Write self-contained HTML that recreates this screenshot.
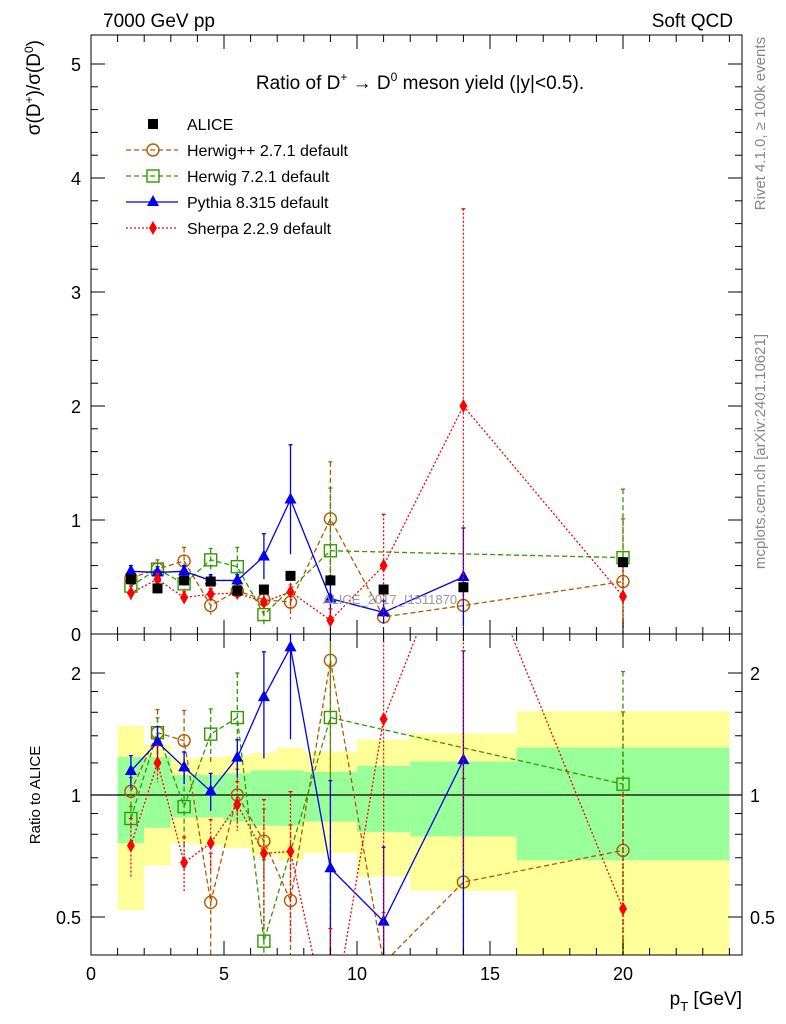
<!DOCTYPE html>
<html><head><meta charset="utf-8"><style>
html,body{margin:0;padding:0;background:#fff;width:786px;height:1024px;overflow:hidden;}
svg{display:block;font-family:"Liberation Sans",sans-serif;}
</style></head><body>
<svg id="c" width="786" height="1024"></svg>
<script>
const xs=[1.5,2.5,3.5,4.5,5.5,6.5,7.5,9,11,14,20];
const binEdges=[1,2,3,4,5,6,7,8,10,12,16,24];
const alice=[0.48,0.40,0.47,0.46,0.38,0.39,0.51,0.47,0.39,0.41,0.63];
const aliceErr=[0.03,0.03,0.03,0.03,0.03,0.03,0.03,0.03,0.03,0.03,0.03];
const herwigpp=[0.49,0.57,0.64,0.25,0.38,0.30,0.28,1.01,0.15,0.25,0.46];
const herwigppErr=[0.04,0.08,0.12,0.08,0.06,0.06,0.15,0.5,0.05,0.2,0.55];
const herwig7=[0.42,0.57,0.44,0.65,0.59,0.17,null,0.73,null,null,0.67];
const herwig7Err=[0.03,0.05,0.1,0.1,0.17,0.1,0.2,0.55,0,0,0.6];
const pythia=[0.55,0.54,0.55,0.47,0.47,0.68,1.18,0.31,0.19,0.50,null];
const pythiaErr=[0.05,0.05,0.05,0.05,0.05,0.2,0.48,0.2,0.1,0.43,0];
const sherpa=[0.36,0.48,0.32,0.35,0.36,0.28,0.37,0.12,0.60,2.00,0.33];
const sherpaErr=[0.06,0.05,0.05,0.05,0.05,0.1,0.15,0.1,0.45,1.73,0.3];
const yelLo=[0.52,0.67,0.76,0.75,0.74,0.71,0.69,0.72,0.63,0.58,0.3];
const yelHi=[1.48,1.33,1.23,1.24,1.25,1.27,1.31,1.28,1.37,1.42,1.61];
const grnLo=[0.76,0.83,0.88,0.88,0.86,0.84,0.84,0.86,0.81,0.79,0.69];
const grnHi=[1.24,1.24,1.12,1.12,1.13,1.15,1.15,1.14,1.18,1.21,1.31];
const mainTicks=[0,1,2,3,4,5];
const xTicks=[0,5,10,15,20];
const ratioTicks=[0.5,1,2];

const NS="http://www.w3.org/2000/svg";
const svg=document.getElementById('c');
const L=91,R=742,T=35,M=634,B=955;
const X=v=>L+v*26.6;
const Y=v=>M-v*114;
const YR=r=>795-Math.log2(r)*122;
function el(tag,attrs,parent){const e=document.createElementNS(NS,tag);for(const k in attrs)e.setAttribute(k,attrs[k]);(parent||svg).appendChild(e);return e;}
function txt(s,x,y,attrs,parent){const t=el('text',Object.assign({x:x,y:y,'font-size':18},attrs),parent);t.textContent=s;return t;}

const defs=el('defs',{});
const cp1=el('clipPath',{id:'cm'},defs);el('rect',{x:L,y:T,width:R-L,height:M-T},cp1);
const cp2=el('clipPath',{id:'cr'},defs);el('rect',{x:L,y:M,width:R-L,height:B-M},cp2);

const gb=el('g',{'clip-path':'url(#cr)'});


for(let i=0;i<yelLo.length;i++){
  const x0=X(binEdges[i]),x1=X(binEdges[i+1]);
  const y=el('rect',{x:x0,y:YR(yelHi[i]),width:x1-x0,height:YR(yelLo[i])-YR(yelHi[i]),fill:'#ffff99'},gb);
  
  
  const g=el('rect',{x:x0,y:YR(grnHi[i]),width:x1-x0,height:YR(grnLo[i])-YR(grnHi[i]),fill:'#99ff99'},gb);
  
  
}
el('line',{x1:L,x2:R,y1:YR(1),y2:YR(1),stroke:'#000','stroke-width':1.2});

const series=[
 {name:'herwigpp',v:herwigpp,e:herwigppErr,c:'#b35900',dash:'5,3',m:'circle'},
 {name:'herwig7',v:herwig7,e:herwig7Err,c:'#339900',dash:'5,3',m:'square'},
 {name:'pythia',v:pythia,e:pythiaErr,c:'#0000ee',dash:'',m:'tri'},
 {name:'sherpa',v:sherpa,e:sherpaErr,c:'#ff0000',dash:'2,2',m:'diamond'}
];
function marker(m,x,y,c,parent){
  if(m==='circle')return el('circle',{cx:x,cy:y,r:6,fill:'none',stroke:c,'stroke-width':1.4},parent);
  if(m==='square')return el('rect',{x:x-6,y:y-6,width:12,height:12,fill:'none',stroke:c,'stroke-width':1.4},parent);
  if(m==='tri')return el('polygon',{points:`${x},${y-7} ${x-6},${y+4} ${x+6},${y+4}`,fill:c},parent);
  if(m==='diamond')return el('polygon',{points:`${x},${y-7} ${x+4},${y} ${x},${y+7} ${x-4},${y}`,fill:c},parent);
  return el('rect',{x:x-5,y:y-5,width:10,height:10,fill:c},parent);
}
function drawPanel(clip,fy,ratio){
  const gp=el('g',{'clip-path':clip});
  series.forEach(s=>{
    const g=el('g',{},gp);
    
    
    let pts=[];
    s.v.forEach((v,i)=>{ if(v==null)return;
      const val=ratio?v/alice[i]:v, er=ratio?s.e[i]/alice[i]:s.e[i];
      const x=X(xs[i]);
      const lo=Math.max(val-er,ratio?0.01:-1);
      el('line',{x1:x,x2:x,y1:fy(val+er),y2:fy(lo),stroke:s.c,'stroke-width':1.3,'stroke-dasharray':s.dash},g);
      el('line',{x1:x-2,x2:x+2,y1:fy(val+er),y2:fy(val+er),stroke:s.c,'stroke-width':1.3},g);
      pts.push(x+','+fy(val));
    });
    el('polyline',{points:pts.join(' '),fill:'none',stroke:s.c,'stroke-width':1.3,'stroke-dasharray':s.dash},g);
    s.v.forEach((v,i)=>{ if(v==null)return;
      const val=ratio?v/alice[i]:v;
      const mk=marker(s.m,X(xs[i]),fy(val),s.c,g);
      
      
    });
  });
  return gp;
}
drawPanel('url(#cm)',Y,false);
const ga=el('g',{'clip-path':'url(#cm)'});


alice.forEach((v,i)=>{
  const x=X(xs[i]);
  el('line',{x1:x,x2:x,y1:Y(v+aliceErr[i]),y2:Y(v-aliceErr[i]),stroke:'#000'},ga);
  const mk=marker('sq',x,Y(v),'#000',ga);
  
  
});
drawPanel('url(#cr)',YR,true);

const wm=txt('ALICE_2017_I1511870',390,604,{'font-size':13,fill:'#999','text-anchor':'middle'});



el('rect',{x:L,y:T,width:R-L,height:M-T,fill:'none',stroke:'#000','stroke-width':1});
el('rect',{x:L,y:M,width:R-L,height:B-M,fill:'none',stroke:'#000','stroke-width':1});

mainTicks.forEach(t=>{
  const y=Y(t);
  el('line',{x1:L,x2:L+14,y1:y,y2:y,stroke:'#000'});
  el('line',{x1:R,x2:R-14,y1:y,y2:y,stroke:'#000'});
  const lb=txt(String(t),L-10,y+7,{'text-anchor':'end'});
  
  
  for(let k=1;k<5&&t<5;k++){const yy=Y(t+k*0.2);el('line',{x1:L,x2:L+7,y1:yy,y2:yy,stroke:'#000'});el('line',{x1:R,x2:R-7,y1:yy,y2:yy,stroke:'#000'});}
});
ratioTicks.forEach(t=>{
  const y=YR(t);
  el('line',{x1:L,x2:L+14,y1:y,y2:y,stroke:'#000'});
  el('line',{x1:R,x2:R-14,y1:y,y2:y,stroke:'#000'});
  const lb=txt(String(t),L-10,y+7,{'text-anchor':'end'});
  
  
  const lb2=txt(String(t),R+8,y+7,{});
  
  
});
[0.6,0.7,0.8,0.9,1.2,1.4,1.6,1.8].forEach(t=>{const y=YR(t);el('line',{x1:L,x2:L+7,y1:y,y2:y,stroke:'#000'});el('line',{x1:R,x2:R-7,y1:y,y2:y,stroke:'#000'});});
for(let v=0;v<=24;v++){
  const x=X(v),big=v%5===0;
  el('line',{x1:x,x2:x,y1:B,y2:B-(big?14:7),stroke:'#000'});
  el('line',{x1:x,x2:x,y1:M,y2:M-(big?14:7),stroke:'#000'});
  el('line',{x1:x,x2:x,y1:M,y2:M+(big?14:7),stroke:'#000'});
  el('line',{x1:x,x2:x,y1:T,y2:T+(big?14:7),stroke:'#000'});
}
xTicks.forEach(t=>{const lb=txt(String(t),X(t),980,{'text-anchor':'middle'});
  
  });

const h1=txt('7000 GeV pp',103,27,{'font-size':19});
const h2=txt('Soft QCD',733,27,{'font-size':19,'text-anchor':'end'});
const ti=el('text',{x:420,y:89,'font-size':19,'text-anchor':'middle'});
ti.innerHTML='Ratio of D<tspan dy="-8" font-size="12">+</tspan><tspan dy="8"> → D</tspan><tspan dy="-8" font-size="12">0</tspan><tspan dy="8"> meson yield (|y|&lt;0.5).</tspan>';

const yl=el('text',{transform:'translate(40,40) rotate(-90)','font-size':19,'text-anchor':'end'});
yl.innerHTML='σ(D<tspan dy="-7" font-size="12">+</tspan><tspan dy="7">)/σ(D</tspan><tspan dy="-7" font-size="12">0</tspan><tspan dy="7">)</tspan>';

const rl=txt('Ratio to ALICE',0,0,{'font-size':15,'text-anchor':'middle',transform:'translate(40,795) rotate(-90)'});

const xl=el('text',{x:742,y:1005,'font-size':19,'text-anchor':'end'});
xl.innerHTML='p<tspan dy="6" font-size="13">T</tspan><tspan dy="-6"> [GeV]</tspan>';

const r1=txt('Rivet 4.1.0, ≥ 100k events',0,0,{'font-size':15,fill:'#888','text-anchor':'end',transform:'translate(765,37) rotate(-90)'});

const r2=txt('mcplots.cern.ch [arXiv:2401.10621]',0,0,{'font-size':15,fill:'#888','text-anchor':'end',transform:'translate(765,334) rotate(-90)'});


const leg=[['ALICE','sq','#000',''],['Herwig++ 2.7.1 default','circle','#b35900','5,3'],['Herwig 7.2.1 default','square','#339900','5,3'],['Pythia 8.315 default','tri','#0000ee',''],['Sherpa 2.2.9 default','diamond','#ff0000','2,2']];
leg.forEach((l,i)=>{
  const y=124+i*26;
  const g=el('g',{});
  
  
  if(i>0)el('line',{x1:126,x2:178,y1:y,y2:y,stroke:l[2],'stroke-width':1.3,'stroke-dasharray':l[3]},g);
  marker(l[1],153,y,l[2],g);
  txt(l[0],187,y+6,{'font-size':16},g);
});
</script>
</body></html>
